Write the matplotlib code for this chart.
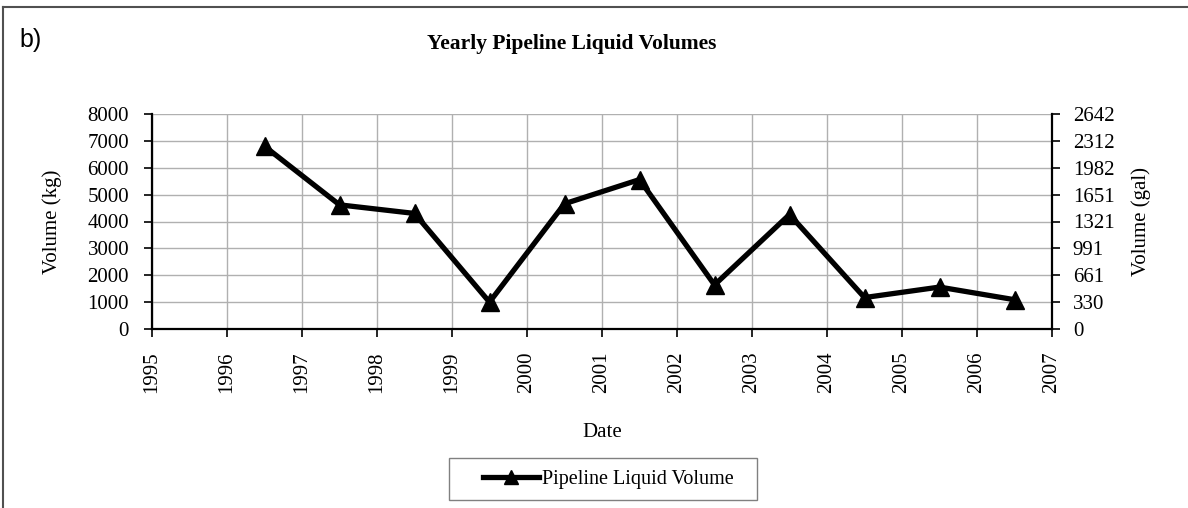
import matplotlib
matplotlib.use("Agg")
import matplotlib.pyplot as plt
from matplotlib.lines import Line2D
from matplotlib.patches import Rectangle

# data
years = [1996, 1997, 1998, 1999, 2000, 2001, 2002, 2003, 2004, 2005, 2006]
volume_kg = [6800, 4620, 4300, 1000, 4660, 5560, 1640, 4260, 1170, 1560, 1090]
kg_ticks = [0, 1000, 2000, 3000, 4000, 5000, 6000, 7000, 8000]
gal_labels = ['0', '330', '661', '991', '1321', '1651', '1982', '2312', '2642']
year_ticks = list(range(1995, 2008))

plt.rcParams['font.family'] = ['Liberation Serif', 'DejaVu Serif']
plt.rcParams['font.size'] = 15

W, H = 1188, 508
fig = plt.figure(figsize=(W / 100, H / 100), dpi=100)
ax = fig.add_axes([152 / W, 1 - 329 / H, 900 / W, 215 / H])

# mid-year points
xs = [y + 0.5 for y in years]
ax.plot(xs, volume_kg, color='black', linewidth=3.8, marker='^',
        markersize=13, markerfacecolor='black', markeredgecolor='black',
        zorder=3, clip_on=False)

ax.set_xlim(1995, 2007)
ax.set_ylim(0, 8000)
ax.set_xticks(year_ticks)
ax.set_xticklabels([str(y) for y in year_ticks], rotation=90)
ax.set_yticks(kg_ticks)
ax.grid(True, color='#b0b0b0', linewidth=1.0, zorder=0)
ax.set_axisbelow(True)

for side in ['left', 'bottom']:
    ax.spines[side].set_linewidth(1.6)
    ax.spines[side].set_color('black')
ax.spines['top'].set_visible(False)
ax.spines['right'].set_visible(False)
ax.tick_params(axis='y', direction='out', length=6, width=1.2, pad=10.5)
ax.tick_params(axis='x', direction='out', length=6, width=1.2, pad=10)

ax.set_ylabel('Volume (kg)', labelpad=18)
ax.set_xlabel('Date', labelpad=22)

# secondary axis in gallons
ax2 = ax.twinx()
ax2.set_ylim(ax.get_ylim())
ax2.set_yticks(kg_ticks)
ax2.set_yticklabels(gal_labels)
ax2.spines['right'].set_linewidth(1.6)
ax2.spines['right'].set_color('black')
for side in ['top', 'left', 'bottom']:
    ax2.spines[side].set_visible(False)
ax2.tick_params(direction='out', length=6, width=1.2, pad=9)
ax2.set_ylabel('Volume (gal)', labelpad=12)

fig.text(572 / W, 1 - 44 / H, 'Yearly Pipeline Liquid Volumes',
         ha='center', va='center', fontsize=15.5, fontweight='bold')
fig.text(19 / W, 1 - 40 / H, 'b)', ha='left', va='center',
         fontsize=18, family=['Liberation Sans', 'DejaVu Sans'])

# legend box drawn separately so its padding matches
fig.add_artist(Rectangle((449 / W, 1 - 500 / H), 308 / W, 42 / H,
                         transform=fig.transFigure, facecolor='white',
                         edgecolor='#808080', linewidth=1.0))
handle = Line2D([], [], color='black', linewidth=3.8, marker='^',
                markersize=10, markerfacecolor='black')
fig.legend([handle], ['Pipeline Liquid Volume'], loc='center left',
           bbox_to_anchor=(483 / W, 1 - 479 / H), frameon=False,
           handlelength=2.8, handletextpad=0.15, borderpad=0,
           borderaxespad=0, fontsize=14.5)

# outer border (only top and left edges show in the crop)
fig.add_artist(Line2D([3 / W, 3 / W], [0, 1 - 7 / H],
                      transform=fig.transFigure, color='#505050', linewidth=1.5))
fig.add_artist(Line2D([3 / W, 1], [1 - 7 / H, 1 - 7 / H],
                      transform=fig.transFigure, color='#505050', linewidth=1.5))

fig.savefig('out.png', dpi=100, facecolor='white')
